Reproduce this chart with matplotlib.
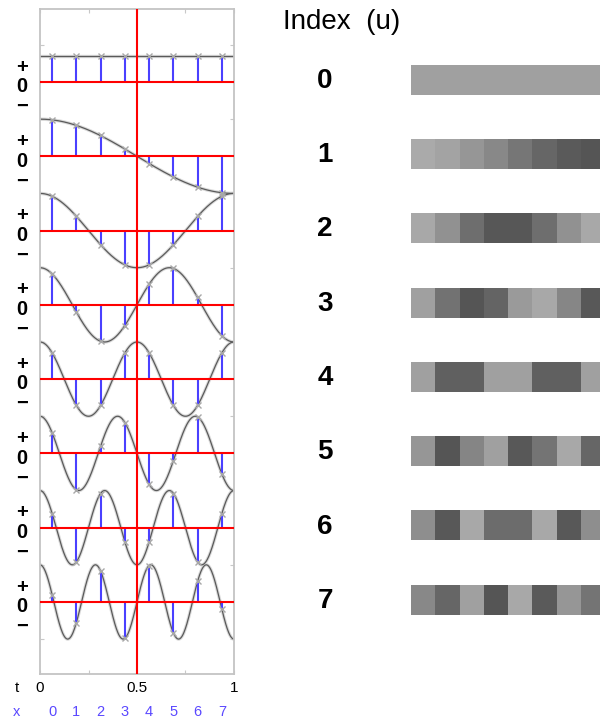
#!/usr/bin/env python3

import numpy as np
import matplotlib
matplotlib.use("Agg")
import matplotlib.pyplot as plt
from matplotlib.transforms import blended_transform_factory

# ==========================
# DATA
# ==========================
freqs = [0, 1, 2, 3, 4, 5, 6, 7]          # index u
sample_idx = [0, 1, 2, 3, 4, 5, 6, 7]     # sample x

# sampled values (stem heights), one list per index u
stem_u0 = [0.71, 0.71, 0.71, 0.71, 0.71, 0.71, 0.71, 0.71]
stem_u1 = [0.98, 0.83, 0.56, 0.20, -0.20, -0.56, -0.83, -0.98]
stem_u2 = [0.92, 0.38, -0.38, -0.92, -0.92, -0.38, 0.38, 0.92]
stem_u3 = [0.83, -0.20, -0.98, -0.56, 0.56, 0.98, 0.20, -0.83]
stem_u4 = [0.71, -0.71, -0.71, 0.71, 0.71, -0.71, -0.71, 0.71]
stem_u5 = [0.56, -0.98, 0.20, 0.83, -0.83, -0.20, 0.98, -0.56]
stem_u6 = [0.38, -0.92, 0.92, -0.38, -0.38, 0.92, -0.92, 0.38]
stem_u7 = [0.20, -0.56, 0.83, -0.98, 0.98, -0.83, 0.56, -0.20]
stems = [stem_u0, stem_u1, stem_u2, stem_u3, stem_u4, stem_u5, stem_u6, stem_u7]

# grey level of each cell in the right-hand bars (0-255)
grey_u0 = [160, 160, 160, 160, 160, 160, 160, 160]
grey_u1 = [170, 163, 150, 136, 118, 102, 90, 85]
grey_u2 = [168, 145, 110, 87, 87, 110, 145, 168]
grey_u3 = [160, 114, 85, 100, 154, 168, 134, 88]
grey_u4 = [160, 96, 96, 160, 160, 96, 96, 160]
grey_u5 = [150, 85, 133, 160, 88, 116, 168, 102]
grey_u6 = [142, 88, 168, 108, 108, 168, 88, 142]
grey_u7 = [136, 102, 160, 85, 168, 90, 150, 116]
greys = [grey_u0, grey_u1, grey_u2, grey_u3, grey_u4, grey_u5, grey_u6, grey_u7]

t_ticks = [0, 0.5, 1]
t_tick_labels = ["0", "0.5", "1"]

# ==========================
# STYLE
# ==========================
W, H = 600, 722
ROW_STEP = 2.0
RED = "#ff0000"
BLUE = "#4a40ff"
CURVE = "#5a5a5a"
FRAME = "#c4c4c4"
XBLUE = "#5a48ff"
FONT = ["Liberation Sans", "DejaVu Sans"]

fig = plt.figure(figsize=(W / 100, H / 100), dpi=100)

# ---- left: basis functions ----
ax = fig.add_axes([40 / W, (H - 674) / H, 194 / W, 665 / H])
ax.set_xlim(0, 1)
ax.set_ylim(-15.94, 1.966)

x_pos = (2 * np.array(sample_idx) + 1) / 16.0
t = np.linspace(0, 1, 400)
tr = blended_transform_factory(fig.transFigure, ax.transData)

for u, vals in zip(freqs, stems):
    base = -ROW_STEP * u
    if u == 0:
        curve = np.full_like(t, vals[0])
    else:
        curve = np.cos(np.pi * u * t)
    ax.plot(t, base + curve, color="#dadada", lw=2.4, zorder=1)
    ax.plot(t, base + curve, color=CURVE, lw=0.9, zorder=2)
    ax.vlines(x_pos, base, base + np.array(vals), color=BLUE, lw=1.5, zorder=3)
    ax.plot(x_pos, base + np.array(vals), "x", color="#a8a8a8",
            ms=5, mew=1.0, zorder=4)
    ax.axhline(base, color=RED, lw=1.5, zorder=5)

    # +, 0, - labels on the left (one stacked text)
    ax.text(22 / W, base - 0.13, "+\n0\n\u2212", transform=tr,
            ha="center", va="center", multialignment="center",
            fontsize=14.5, fontweight="bold", family=FONT, linespacing=1.05)

ax.axvline(0.5, color=RED, lw=1.5, zorder=5)

ax.set_xticks([0, 0.25, 0.5, 0.75, 1])
ax.set_yticks(np.arange(1, -16, -2))
ax.tick_params(axis="both", direction="in", length=3, color="#c8c8c8",
               top=True, right=True, labelbottom=False, labelleft=False)
for spine in ax.spines.values():
    spine.set_color(FRAME)
    spine.set_linewidth(1.3)

# t axis labels and sample indices below the plot
trx = blended_transform_factory(ax.transData, fig.transFigure)
fig.text(17 / W, 1 - 688 / H, "t", ha="center", va="center",
         fontsize=11, family=FONT)
for tv, lab in zip(t_ticks, t_tick_labels):
    ax.text(tv, 1 - 688 / H, lab, transform=trx, ha="center", va="center",
            fontsize=11, family=FONT)
fig.text(17 / W, 1 - 712 / H, "x", ha="center", va="center",
         fontsize=10.5, color=XBLUE, family=FONT)
for xp, k in zip(x_pos, sample_idx):
    ax.text(xp, 1 - 712 / H, str(k), transform=trx, ha="center", va="center",
            fontsize=10.5, color=XBLUE, family=FONT)

# ---- right: grey bars ----
bx = fig.add_axes([411 / W, (H - 674) / H, 194 / W, 665 / H])
bx.set_xlim(0, 8)
bx.set_ylim(-15.94, 1.966)
bx.axis("off")

BAR_H = 0.81
for u, g in zip(freqs, greys):
    center = -ROW_STEP * u + 0.06
    cols = [(v / 255, v / 255, v / 255) for v in g]
    bx.bar(np.array(sample_idx) + 0.5, BAR_H, width=1.0,
           bottom=center - BAR_H / 2, color=cols, linewidth=0)
    bx.text((325 - 411) / 24.25, center - 0.03, str(u), ha="center", va="center",
            fontsize=20, fontweight="bold", family=FONT, clip_on=False)

fig.text(283 / W, 1 - 22 / H, "Index  (u)", ha="left", va="center",
         fontsize=20, family=FONT)

fig.savefig("out.png", dpi=100)
plt.close(fig)
